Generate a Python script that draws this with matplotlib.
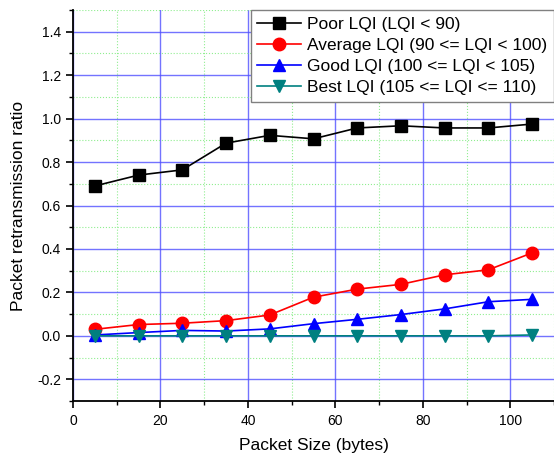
import matplotlib
matplotlib.use('Agg')
from matplotlib import pyplot as plt
from matplotlib.ticker import MultipleLocator

plt.rcParams['font.family'] = ['Liberation Sans', 'DejaVu Sans']

packet_size = [5, 15, 25, 35, 45, 55, 65, 75, 85, 95, 105]
poor = [0.69, 0.74, 0.764, 0.887, 0.923, 0.907, 0.957, 0.967, 0.957, 0.957, 0.975]
average = [0.03, 0.052, 0.058, 0.07, 0.096, 0.178, 0.215, 0.237, 0.281, 0.304, 0.382]
good = [0.004, 0.015, 0.025, 0.022, 0.032, 0.056, 0.076, 0.098, 0.124, 0.157, 0.168]
best = [0.0, 0.0, 0.0, 0.0, 0.0, 0.0, 0.0, 0.0, 0.0, 0.0, 0.004]

labels = ['Poor LQI (LQI < 90)', 'Average LQI (90 <= LQI < 100)',
          'Good LQI (100 <= LQI < 105)', 'Best LQI (105 <= LQI <= 110)']

fig = plt.figure(figsize=(5.54, 4.57), dpi=100)
ax = fig.add_axes([73 / 554, 56 / 457, 481 / 554, 391 / 457])

ax.plot(packet_size, poor, color='black', marker='s', ms=8, lw=1.2, label=labels[0])
ax.plot(packet_size, average, color='red', marker='o', ms=9, lw=1.2, label=labels[1])
ax.plot(packet_size, good, color='blue', marker='^', ms=9, lw=1.2, label=labels[2])
ax.plot(packet_size, best, color='#008080', marker='v', ms=9, lw=1.2, label=labels[3])

ax.set_xlim(0, 110)
ax.set_ylim(-0.3, 1.5)
ax.xaxis.set_major_locator(MultipleLocator(20))
ax.xaxis.set_minor_locator(MultipleLocator(10))
ax.yaxis.set_major_locator(MultipleLocator(0.2))
ax.yaxis.set_minor_locator(MultipleLocator(0.1))
ax.set_yticks([-0.2, 0.0, 0.2, 0.4, 0.6, 0.8, 1.0, 1.2, 1.4])
ax.set_yticklabels(['-0.2', '0.0', '0.2', '0.4', '0.6', '0.8', '1.0', '1.2', '1.4'])

ax.grid(which='major', color='#5050ff', lw=1.0, alpha=0.8)
ax.grid(which='minor', color='#90ee90', lw=0.8, ls=':')
ax.set_axisbelow(True)

ax.spines['top'].set_visible(False)
ax.spines['right'].set_visible(False)
ax.spines['left'].set_linewidth(1.3)
ax.spines['bottom'].set_linewidth(1.3)
ax.tick_params(which='major', direction='out', length=5, width=1.2, labelsize=10)
ax.tick_params(axis='x', which='major', pad=4.5)
ax.tick_params(which='minor', direction='out', length=3, width=1.0)

ax.set_xlabel('Packet Size (bytes)', fontsize=12.5, labelpad=7)
ax.set_ylabel('Packet retransmission ratio', fontsize=12.5, labelpad=8)

leg = ax.legend(loc='upper right', borderaxespad=0, fontsize=12.5, fancybox=False,
                framealpha=1, edgecolor='gray', handlelength=2.5, borderpad=0.4,
                labelspacing=0.33, handletextpad=0.35)
leg.get_frame().set_linewidth(1.0)

fig.savefig('out.png', dpi=100)
